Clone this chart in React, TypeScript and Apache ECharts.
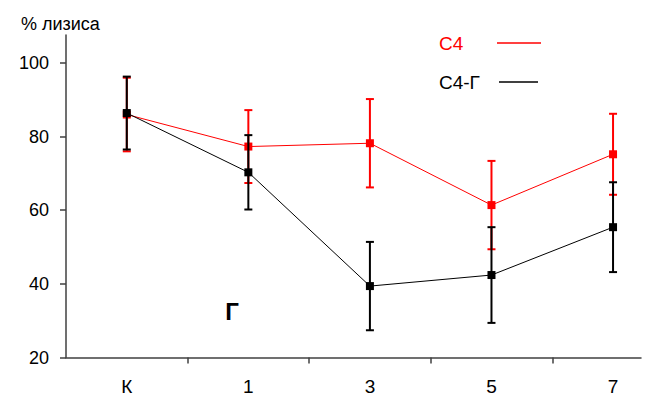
import React, { useEffect, useRef } from "react";
import * as echarts from "echarts";

const categories = ["К", "1", "3", "5", "7"];
const c4Mean = [86, 77.3, 78.2, 61.4, 75.2];
const c4Err = [10, 9.9, 12, 12, 11];
const c4gMean = [86.4, 70.3, 39.4, 42.4, 55.4];
const c4gErr = [9.9, 10.1, 12, 13, 12.2];
const yTicks = [20, 40, 60, 80, 100];
const xTicks = [0.5, 1.5, 2.5, 3.5];
const seriesNames = ["C4", "C4-Г"];
const yTitle = "% лизиса";
const panelLabel = "Г";

const FONT = '"Liberation Sans", Arial, sans-serif';
const RED = "#ff0000";
const BLACK = "#000000";

function errBar(color: string) {
  return (params: any, api: any) => {
    const x = api.value(0);
    const lo = api.value(1);
    const hi = api.value(2);
    const top = api.coord([x, hi]);
    const bot = api.coord([x, lo]);
    const w = 4;
    const st = { stroke: color, lineWidth: 2 };
    return {
      type: "group",
      children: [
        { type: "line", shape: { x1: top[0], y1: top[1], x2: bot[0], y2: bot[1] }, style: st },
        { type: "line", shape: { x1: top[0] - w, y1: top[1], x2: top[0] + w, y2: top[1] }, style: st },
        { type: "line", shape: { x1: bot[0] - w, y1: bot[1], x2: bot[0] + w, y2: bot[1] }, style: st },
      ],
    };
  };
}

export default function App() {
  const ref = useRef<HTMLDivElement>(null);
  useEffect(() => {
    document.body.style.margin = "0";
    const chart = echarts.init(ref.current!, null, { renderer: "svg" });
    const option: any = {
      animation: false,
      backgroundColor: "#ffffff",
      textStyle: { fontFamily: FONT },
      title: {
        text: yTitle,
        left: 16,
        top: 10,
        textStyle: { fontSize: 18, fontWeight: "normal", color: "#000", fontFamily: FONT },
      },
      grid: { left: 66, top: 35, right: 5, bottom: 40.5, containLabel: false },
      xAxis: {
        type: "value",
        min: -0.5,
        max: 4.23,
        axisLine: { show: true, onZero: false, lineStyle: { color: "#404040", width: 1.5 } },
        axisTick: { show: true, length: 6, customValues: xTicks, lineStyle: { color: "#404040", width: 1.5 } },
        axisLabel: {
          customValues: [0, 1, 2, 3, 4],
          formatter: (v: number) => categories[Math.round(v)],
          margin: 19,
          fontSize: 19,
          color: "#000",
          fontFamily: FONT,
        },
        splitLine: { show: false },
      },
      yAxis: {
        type: "value",
        min: 20,
        max: 107.6,
        axisLine: { show: true, onZero: false, lineStyle: { color: "#404040", width: 1.5 } },
        axisTick: { show: true, length: 6, customValues: yTicks, lineStyle: { color: "#404040", width: 1.5 } },
        axisLabel: {
          customValues: yTicks,
          margin: 17,
          fontSize: 18,
          color: "#000",
          fontFamily: FONT,
        },
        splitLine: { show: false },
      },
      graphic: [
        { type: "text", x: 439, y: 43, style: { text: seriesNames[0], fill: RED, font: `19px ${FONT}`, verticalAlign: "middle" } },
        { type: "line", shape: { x1: 497, y1: 43, x2: 541, y2: 43 }, style: { stroke: RED, lineWidth: 1.5 } },
        { type: "text", x: 439, y: 82, style: { text: seriesNames[1], fill: BLACK, font: `19px ${FONT}`, verticalAlign: "middle" } },
        { type: "line", shape: { x1: 499, y1: 82, x2: 538, y2: 82 }, style: { stroke: BLACK, lineWidth: 1.5 } },
        { type: "text", x: 232, y: 311, style: { text: panelLabel, fill: BLACK, font: `bold 24px ${FONT}`, align: "center", verticalAlign: "middle" } },
      ],
      series: [
        {
          type: "custom",
          name: seriesNames[0] + " err",
          renderItem: errBar(RED),
          data: categories.map((_, i) => [i, c4Mean[i] - c4Err[i], c4Mean[i] + c4Err[i]]),
          encode: { x: 0, y: [1, 2] },
          z: 2,
        },
        {
          type: "line",
          name: seriesNames[0],
          data: categories.map((_, i) => [i, c4Mean[i]]),
          symbol: "rect",
          symbolSize: 8,
          itemStyle: { color: RED },
          lineStyle: { color: RED, width: 1 },
          z: 3,
        },
        {
          type: "custom",
          name: seriesNames[1] + " err",
          renderItem: errBar(BLACK),
          data: categories.map((_, i) => [i, c4gMean[i] - c4gErr[i], c4gMean[i] + c4gErr[i]]),
          encode: { x: 0, y: [1, 2] },
          z: 4,
        },
        {
          type: "line",
          name: seriesNames[1],
          data: categories.map((_, i) => [i, c4gMean[i]]),
          symbol: "rect",
          symbolSize: 8,
          itemStyle: { color: BLACK },
          lineStyle: { color: BLACK, width: 1 },
          z: 5,
        },
      ],
    };
    chart.setOption(option);
    return () => chart.dispose();
  }, []);
  return (
    <div
      ref={ref}
      style={{ position: "fixed", left: 0, top: 0, width: 646, height: 398 }}
    />
  );
}
